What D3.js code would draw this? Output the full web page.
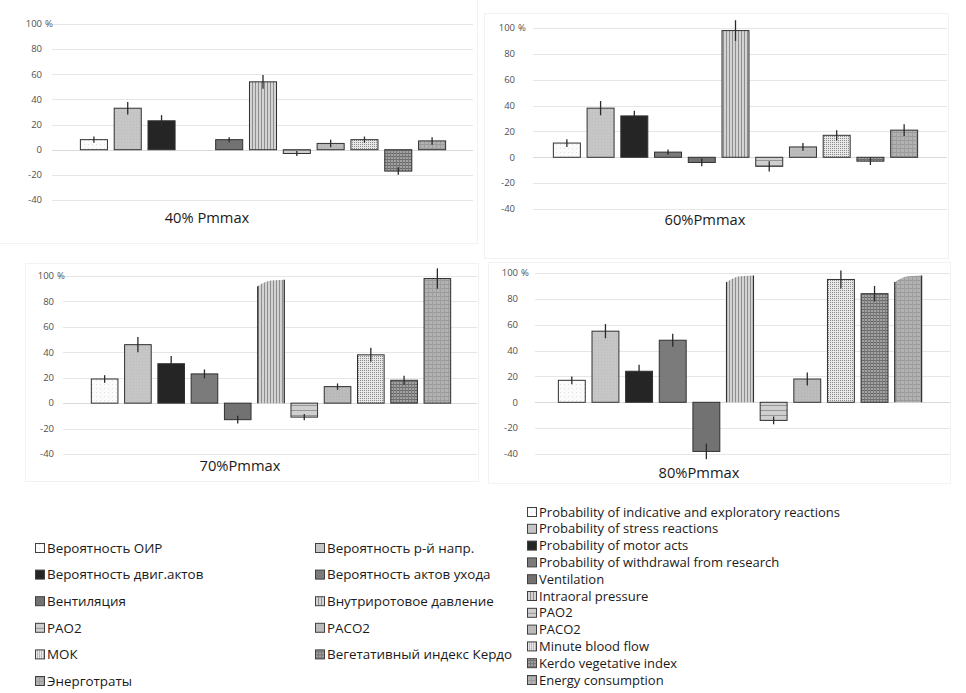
<!DOCTYPE html>
<html>
<head>
<meta charset="utf-8">
<script src="https://cdn.jsdelivr.net/npm/d3@7"></script>
<style>
  body { margin: 0; background: #fff; }
  svg { display: block; font-family: "Open Sans", "Noto Sans", sans-serif; }
</style>
</head>
<body>
<svg id="chart" width="966" height="693"></svg>
<script>
// categories (order of bars in every panel)
var categoriesRu = ['Вероятность ОИР', 'Вероятность р-й напр.', 'Вероятность двиг.актов',
  'Вероятность актов ухода', 'Вентиляция', 'Внутриротовое давление', 'PAO2', 'PACO2',
  'МОК', 'Вегетативный индекс Кердо', 'Энерготраты'];
var categoriesEn = ['Probability of indicative and exploratory reactions', 'Probability of stress reactions',
  'Probability of motor acts', 'Probability of withdrawal from research', 'Ventilation',
  'Intraoral pressure', 'PAO2', 'PACO2', 'Minute blood flow', 'Kerdo vegetative index',
  'Energy consumption'];

var yTicks = [-40, -20, 0, 20, 40, 60, 80, 100];
var panelTitles = ['40% Pmmax', '60%Pmmax', '70%Pmmax', '80%Pmmax'];

// values, % (null = no bar)
var values40 = [8, 33, 23, null, 8, 54, -3, 5, 8, -17, 7];
var values60 = [11, 38, 32, 4, -4, 98, -7, 8, 17, -3, 21];
var values70 = [19, 46, 31, 23, -13, 97, -11, 13, 38, 18, 98];
var values80 = [17, 55, 24, 48, -38, 98, -14, 18, 95, 84, 98];

// error bar half-lengths
var errors40 = [2.5, 5, 4.5, 0, 2, 5.5, 2, 3, 2.5, 3, 3];
var errors60 = [3, 5.5, 4, 2, 3, 8, 4, 3, 4, 3, 4.5];
var errors70 = [3, 6, 6, 3.5, 3, 0, 2.5, 2.5, 5.5, 3.5, 8];
var errors80 = [3, 5.5, 5, 5, 6, 0, 3, 5, 7, 6, 0];

// bars drawn with a cut (off-scale) top
var cut40 = [];
var cut60 = [];
var cut70 = [5];
var cut80 = [5, 10];

var svg = d3.select('#chart');
var defs = svg.append('defs');

// ---- fills ----
function pat(id, w, h, bg, draw) {
  var p = defs.append('pattern').attr('id', id)
    .attr('patternUnits', 'userSpaceOnUse').attr('width', w).attr('height', h);
  p.append('rect').attr('width', w).attr('height', h).attr('fill', bg);
  if (draw) draw(p);
  return 'url(#' + id + ')';
}
var fills = [
  pat('pOir', 4, 4, '#fbfbfb', function(p) {
    p.append('rect').attr('x', 0).attr('y', 0).attr('width', 1).attr('height', 1).attr('fill', '#e2e2e2');
  }),
  pat('pStress', 3, 3, '#c6c6c6', function(p) {
    p.append('rect').attr('x', 1).attr('y', 1).attr('width', 1).attr('height', 1).attr('fill', '#bcbcbc');
  }),
  '#252525',
  '#7b7b7b',
  '#727272',
  pat('pVert', 3, 4, '#d3d3d3', function(p) {
    p.append('rect').attr('x', 0).attr('y', 0).attr('width', 1).attr('height', 4).attr('fill', '#8e8e8e');
  }),
  pat('pHoriz', 4, 5, '#cfcfcf', function(p) {
    p.append('rect').attr('x', 0).attr('y', 0).attr('width', 4).attr('height', 1).attr('fill', '#969696');
  }),
  pat('pPaco', 3, 3, '#bcbcbc', function(p) {
    p.append('rect').attr('x', 0).attr('y', 0).attr('width', 1).attr('height', 1).attr('fill', '#b0b0b0');
  }),
  pat('pDots', 2, 2, '#e8e8e8', function(p) {
    p.append('rect').attr('x', 0).attr('y', 0).attr('width', 1).attr('height', 1).attr('fill', '#8a8a8a');
  }),
  pat('pKerdo', 3, 3, '#a2a2a2', function(p) {
    p.append('rect').attr('x', 0).attr('y', 0).attr('width', 3).attr('height', 1).attr('fill', '#6a6a6a');
    p.append('rect').attr('x', 0).attr('y', 0).attr('width', 1).attr('height', 3).attr('fill', '#7a7a7a');
  }),
  pat('pEnergy', 4, 4, '#b2b2b2', function(p) {
    p.append('rect').attr('x', 0).attr('y', 0).attr('width', 4).attr('height', 1).attr('fill', '#9a9a9a');
    p.append('rect').attr('x', 0).attr('y', 0).attr('width', 1).attr('height', 4).attr('fill', '#9e9e9e');
  })
];

// ---- panels ----
var panels = [
  { title: panelTitles[0], values: values40, errors: errors40, cut: cut40,
    frame: [-1, -1, 477, 243], xr: [77, 449], yr: [200, 24], grid: [52, 473], lab: 42, tt: [207, 223] },
  { title: panelTitles[1], values: values60, errors: errors60, cut: cut60,
    frame: [484, 13, 948, 258], xr: [550, 921], yr: [209, 28], grid: [533, 947], lab: 515, tt: [705, 225] },
  { title: panelTitles[2], values: values70, errors: errors70, cut: cut70,
    frame: [25, 263, 478, 481], xr: [88, 454], yr: [454, 276], grid: [63, 477], lab: 54, tt: [240, 471] },
  { title: panelTitles[3], values: values80, errors: errors80, cut: cut80,
    frame: [488, 262, 950, 483], xr: [555, 925], yr: [454, 273], grid: [535, 950], lab: 518, tt: [699, 478] }
];

panels.forEach(function(pn) {
  var g = svg.append('g');
  var x = d3.scaleBand().domain(categoriesRu).range(pn.xr).paddingInner(0.2).paddingOuter(0.1);
  var y = d3.scaleLinear().domain([-40, 100]).range(pn.yr);

  g.append('rect')
    .attr('x', pn.frame[0] + 0.5).attr('y', pn.frame[1] + 0.5)
    .attr('width', pn.frame[2] - pn.frame[0]).attr('height', pn.frame[3] - pn.frame[1])
    .attr('fill', 'none').attr('stroke', '#f2f2f2');

  g.selectAll('line.grid').data(yTicks).enter().append('line')
    .attr('x1', pn.grid[0]).attr('x2', pn.grid[1])
    .attr('y1', function(d) { return Math.round(y(d)) + 0.5; })
    .attr('y2', function(d) { return Math.round(y(d)) + 0.5; })
    .attr('stroke', function(d) { return d === 0 ? '#dadada' : '#e6e6e6'; });

  g.selectAll('text.tick').data(yTicks).enter().append('text')
    .attr('x', pn.lab).attr('y', function(d) { return y(d) + 3.3; })
    .attr('text-anchor', 'end').attr('font-size', 9.5).attr('fill', '#505050')
    .text(function(d) { return d; });
  g.append('text').attr('x', pn.lab + 3).attr('y', y(100) + 3.3)
    .attr('font-size', 9.5).attr('fill', '#505050').text('%');

  var rows = categoriesRu.map(function(c, i) {
    return { cat: c, i: i, v: pn.values[i], e: pn.errors[i], cut: pn.cut.indexOf(i) >= 0 };
  }).filter(function(d) { return d.v !== null; });

  // regular bars
  g.selectAll('rect.bar').data(rows.filter(function(d) { return !d.cut; })).enter().append('rect')
    .attr('x', function(d) { return x(d.cat); })
    .attr('width', x.bandwidth())
    .attr('y', function(d) { return Math.min(y(d.v), y(0)); })
    .attr('height', function(d) { return Math.abs(y(d.v) - y(0)); })
    .attr('fill', function(d) { return fills[d.i]; })
    .attr('stroke', '#303030').attr('stroke-width', 1);

  // off-scale bars: slanted top, no top border
  var cutRows = rows.filter(function(d) { return d.cut; });
  g.selectAll('path.cutbar').data(cutRows).enter().append('path')
    .attr('d', function(d) {
      var x0 = x(d.cat), x1 = x0 + x.bandwidth(), xm = (x0 + x1) / 2;
      return 'M' + x0 + ',' + y(0) + 'L' + x0 + ',' + y(d.v - 5) +
        'Q' + (x0 + x.bandwidth() * 0.3) + ',' + y(d.v - 1) + ' ' + xm + ',' + y(d.v - 0.6) +
        'L' + x1 + ',' + y(d.v) + 'L' + x1 + ',' + y(0) + 'Z';
    })
    .attr('fill', function(d) { return fills[d.i]; });
  g.selectAll('path.cutedge').data(cutRows).enter().append('path')
    .attr('d', function(d) {
      var x0 = x(d.cat), x1 = x0 + x.bandwidth();
      return 'M' + x0 + ',' + y(0) + 'L' + x0 + ',' + y(d.v - 5) +
        'M' + x1 + ',' + y(d.v) + 'L' + x1 + ',' + y(0);
    })
    .attr('fill', 'none').attr('stroke', '#303030').attr('stroke-width', 1.2);

  // error bars
  g.selectAll('line.err').data(rows.filter(function(d) { return d.e > 0; })).enter().append('line')
    .attr('x1', function(d) { return x(d.cat) + x.bandwidth() / 2; })
    .attr('x2', function(d) { return x(d.cat) + x.bandwidth() / 2; })
    .attr('y1', function(d) { return y(d.v - d.e); })
    .attr('y2', function(d) { return y(d.v + d.e); })
    .attr('stroke', '#2a2a2a').attr('stroke-width', 1.3);

  g.append('text').attr('x', pn.tt[0]).attr('y', pn.tt[1])
    .attr('text-anchor', 'middle').attr('font-size', 14.7).attr('fill', '#1a1a1a')
    .text(pn.title);
});

// ---- legends ----
var legRu = svg.append('g').selectAll('g').data(categoriesRu).enter().append('g')
  .attr('transform', function(d, i) {
    var col = i % 2, row = Math.floor(i / 2);
    return 'translate(' + (col ? 315 : 35) + ',' + (548 + row * 26.6) + ')';
  });
legRu.append('rect').attr('x', 0.5).attr('y', -4.5).attr('width', 9).attr('height', 9)
  .attr('fill', function(d, i) { return fills[i]; })
  .attr('stroke', '#404040').attr('stroke-width', 1);
legRu.append('text').attr('x', 12).attr('y', 4.8)
  .attr('font-size', 13.4).attr('fill', '#1a1a1a')
  .text(function(d) { return d; });

var legEn = svg.append('g').selectAll('g').data(categoriesEn).enter().append('g')
  .attr('transform', function(d, i) { return 'translate(527,' + (512 + i * 16.8) + ')'; });
legEn.append('rect').attr('x', 0.5).attr('y', -4.5).attr('width', 9).attr('height', 9)
  .attr('fill', function(d, i) { return fills[i]; })
  .attr('stroke', '#404040').attr('stroke-width', 1);
legEn.append('text').attr('x', 12).attr('y', 4.6)
  .attr('font-size', 13).attr('fill', '#1a1a1a')
  .text(function(d) { return d; });
</script>
</body>
</html>
